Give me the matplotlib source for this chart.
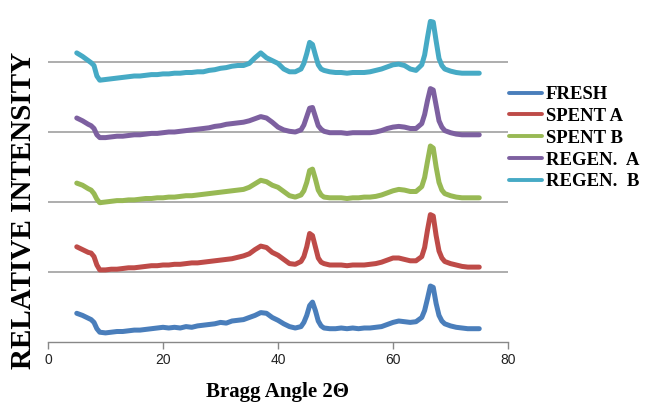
import matplotlib
matplotlib.use("Agg")
import matplotlib.pyplot as plt
from matplotlib.font_manager import FontProperties

# Bragg angle grid (degrees 2-theta)
X = ([5, 6, 7, 7.5, 8, 8.5]
     + list(range(9, 45))
     + [44.5, 45, 45.5, 46, 46.5, 47, 47.5]
     + list(range(48, 66))
     + [65.5, 66, 66.5, 67, 67.5, 68, 68.5]
     + list(range(69, 76)))

fresh = ([0.41, 0.38, 0.34, 0.32, 0.28, 0.19]
         + [0.14, 0.13, 0.14, 0.15, 0.15, 0.16, 0.17, 0.17, 0.18, 0.19, 0.20, 0.21,
            0.20, 0.21, 0.20, 0.22, 0.21, 0.23, 0.24, 0.25, 0.26, 0.28, 0.27, 0.30,
            0.31, 0.32, 0.35, 0.38, 0.42, 0.41, 0.35, 0.31, 0.26, 0.22, 0.20, 0.22]
         + [0.28, 0.38, 0.52, 0.57, 0.45, 0.30, 0.23]
         + [0.20, 0.19, 0.19, 0.20, 0.19, 0.20, 0.19, 0.20, 0.20, 0.21, 0.22, 0.25,
            0.28, 0.30, 0.29, 0.28, 0.29, 0.35]
         + [0.45, 0.62, 0.80, 0.78, 0.55, 0.38, 0.30]
         + [0.26, 0.23, 0.21, 0.20, 0.19, 0.19, 0.19])

spent_a = ([1.36, 1.32, 1.28, 1.27, 1.22, 1.10]
           + [1.03, 1.03, 1.04, 1.04, 1.05, 1.06, 1.06, 1.07, 1.08, 1.09, 1.09, 1.10,
              1.10, 1.11, 1.11, 1.12, 1.13, 1.13, 1.14, 1.15, 1.16, 1.17, 1.18, 1.19,
              1.21, 1.23, 1.26, 1.32, 1.37, 1.35, 1.28, 1.24, 1.18, 1.12, 1.11, 1.15]
           + [1.22, 1.36, 1.55, 1.52, 1.36, 1.20, 1.14]
           + [1.12, 1.10, 1.10, 1.10, 1.09, 1.10, 1.10, 1.10, 1.11, 1.12, 1.14, 1.17,
              1.20, 1.20, 1.18, 1.16, 1.16, 1.22]
           + [1.35, 1.60, 1.82, 1.80, 1.52, 1.30, 1.20]
           + [1.15, 1.12, 1.10, 1.08, 1.07, 1.07, 1.07])

spent_b = ([2.27, 2.24, 2.19, 2.17, 2.12, 2.04]
           + [1.99, 2.00, 2.01, 2.02, 2.02, 2.03, 2.03, 2.04, 2.05, 2.05, 2.06, 2.06,
              2.07, 2.07, 2.08, 2.09, 2.09, 2.10, 2.11, 2.12, 2.13, 2.14, 2.15, 2.16,
              2.17, 2.18, 2.21, 2.26, 2.31, 2.29, 2.24, 2.21, 2.15, 2.09, 2.07, 2.10]
           + [2.16, 2.28, 2.45, 2.47, 2.33, 2.17, 2.10]
           + [2.07, 2.06, 2.06, 2.06, 2.05, 2.06, 2.06, 2.07, 2.07, 2.08, 2.10, 2.13,
              2.16, 2.18, 2.17, 2.15, 2.15, 2.22]
           + [2.35, 2.58, 2.80, 2.77, 2.50, 2.28, 2.17]
           + [2.12, 2.09, 2.07, 2.06, 2.06, 2.06, 2.06])

regen_a = ([3.20, 3.16, 3.11, 3.09, 3.05, 2.96]
           + [2.92, 2.92, 2.93, 2.94, 2.94, 2.95, 2.96, 2.96, 2.97, 2.98, 2.98, 2.99,
              3.00, 3.00, 3.01, 3.02, 3.03, 3.04, 3.05, 3.06, 3.08, 3.09, 3.11, 3.12,
              3.13, 3.14, 3.16, 3.19, 3.22, 3.20, 3.14, 3.07, 3.03, 3.01, 3.00, 3.03]
           + [3.10, 3.22, 3.34, 3.35, 3.22, 3.09, 3.04]
           + [3.01, 2.99, 2.99, 2.99, 2.98, 2.99, 2.99, 2.99, 2.99, 3.00, 3.02, 3.05,
              3.07, 3.08, 3.07, 3.05, 3.05, 3.12]
           + [3.25, 3.45, 3.62, 3.60, 3.38, 3.16, 3.07]
           + [3.02, 2.99, 2.97, 2.96, 2.96, 2.96, 2.96])

regen_b = ([4.13, 4.08, 4.02, 3.99, 3.95, 3.80]
           + [3.74, 3.75, 3.76, 3.77, 3.78, 3.79, 3.80, 3.80, 3.81, 3.82, 3.82, 3.83,
              3.83, 3.84, 3.84, 3.85, 3.85, 3.86, 3.86, 3.88, 3.89, 3.91, 3.92, 3.94,
              3.95, 3.95, 3.98, 4.06, 4.13, 4.06, 4.02, 3.98, 3.90, 3.86, 3.86, 3.90]
           + [3.98, 4.12, 4.28, 4.25, 4.10, 3.96, 3.90]
           + [3.88, 3.86, 3.85, 3.85, 3.84, 3.85, 3.85, 3.85, 3.86, 3.88, 3.90, 3.93,
              3.96, 3.97, 3.95, 3.90, 3.88, 3.96]
           + [4.10, 4.35, 4.58, 4.57, 4.30, 4.05, 3.95]
           + [3.90, 3.87, 3.85, 3.84, 3.84, 3.84, 3.84])

names = ["FRESH", "SPENT A", "SPENT B", "REGEN.  A", "REGEN.  B"]
series = [fresh, spent_a, spent_b, regen_a, regen_b]
colors = ["#4A7EBB", "#BE4B48", "#98B954", "#7D60A0", "#46AAC5"]
xticks = [0, 20, 40, 60, 80]
grid_levels = [1, 2, 3, 4]

fig = plt.figure(figsize=(6.45, 4.03), dpi=100)
ax = fig.add_axes([48 / 645, 61 / 403, 460 / 645, 340 / 403])

for name, vals, c in zip(names, series, colors):
    ax.plot(X, vals, color=c, lw=3.6, solid_capstyle="round",
            solid_joinstyle="round", label=name, zorder=3)

ax.set_xlim(0, 80)
ax.set_ylim(0, 340 / 70)
ax.set_yticks(grid_levels)
ax.yaxis.grid(True, color="#A0A0A0", lw=1.2)
ax.set_axisbelow(True)
ax.tick_params(axis="y", length=0, labelleft=False)
for s in ["left", "top", "right"]:
    ax.spines[s].set_visible(False)
ax.spines["bottom"].set_color("#888888")
ax.spines["bottom"].set_linewidth(1.0)
ax.set_xticks(xticks)
ax.tick_params(axis="x", direction="out", length=5, width=1, color="#888888",
               labelsize=10, labelcolor="#222222", pad=3)
for lab in ax.get_xticklabels():
    lab.set_fontfamily("Liberation Sans")

fig.text(278 / 645, (403 - 392) / 403, "Bragg Angle 2Θ", ha="center", va="center",
         fontfamily="Liberation Serif", fontweight="bold", fontsize=15)
fig.text(24 / 645, (403 - 210) / 403, "RELATIVE INTENSITY", ha="center", va="center",
         rotation=90, fontfamily="Liberation Serif", fontweight="bold", fontsize=21)

leg = fig.legend(loc="upper left", bbox_to_anchor=(509 / 645, (403 - 86) / 403),
                 frameon=False,
                 prop=FontProperties(family="Liberation Serif", weight="bold", size=13.5),
                 handlelength=1.75, handletextpad=0.2, labelspacing=0.25,
                 borderaxespad=0, borderpad=0)
for ln in leg.get_lines():
    ln.set_linewidth(2.8)

fig.savefig("out.png", dpi=100)
